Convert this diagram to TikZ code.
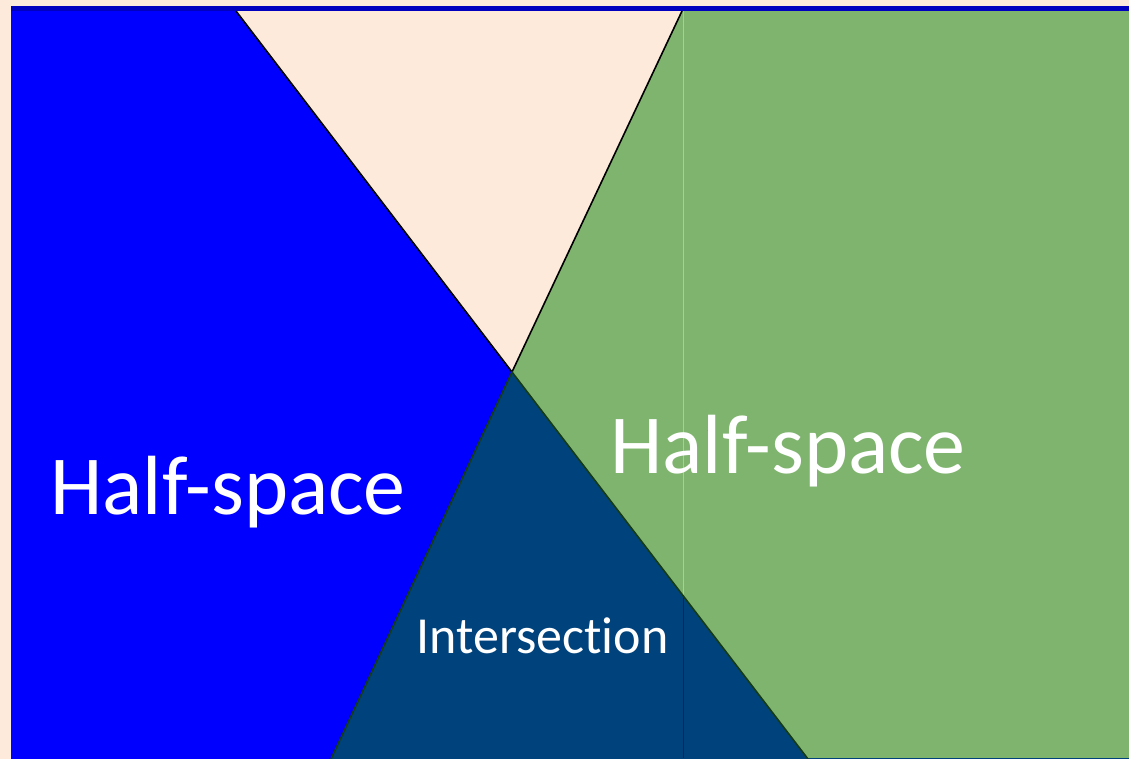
\documentclass[tikz,border=0pt]{standalone}
\usepackage{fontspec}
\setmainfont[Ligatures=NoCommon]{Carlito}
\definecolor{peach}{RGB}{253,234,219}
\definecolor{hsblue}{RGB}{0,0,255}
\definecolor{hsgreen}{RGB}{127,180,110}
\definecolor{isblue}{RGB}{0,66,124}
\definecolor{topline}{RGB}{0,0,190}
\definecolor{edgegreen}{RGB}{20,60,20}
\definecolor{faint}{RGB}{170,205,158}
\tikzset{
  label/.style={text=white, inner sep=0pt, anchor=base},
  edge/.style={line width=1.6pt, line cap=round}
}
\begin{document}
\begin{tikzpicture}[x=1pt,y=-1pt]
  \useasboundingbox (0,0) rectangle (1129,759);
  \fill[peach] (0,0) rectangle (1129,759);
  % corner coordinates
  \coordinate (lt) at (11,11);
  \coordinate (lb) at (11,759);
  \coordinate (a) at (236,11);
  \coordinate (b) at (682,11);
  \coordinate (apex) at (512,372);
  \coordinate (bl) at (331,759);
  \coordinate (br) at (808,759);
  \coordinate (rt) at (1129,11);
  \coordinate (rb) at (1129,759);
  % half-spaces
  \fill[hsblue] (lt) -- (a) -- (br) -- (lb) -- cycle;
  \fill[hsgreen] (b) -- (rt) -- (rb) -- (bl) -- cycle;
  \fill[isblue] (apex) -- (bl) -- (br) -- cycle;
  % faint vertical guide
  \draw[faint, line width=0.8pt] (683,11) -- (683,595);
  \draw[hsblue!80!isblue, line width=0.8pt] (683,597) -- (683,759);
  % bottom edge
  \draw[isblue, line width=1.2pt] (bl) -- (rb);
  % boundaries
  \draw[edge, black] (a) -- (apex);
  \draw[edge, black] (b) -- (apex);
  \draw[edge, edgegreen] (apex) -- (br);
  \draw[edge, edgegreen] (apex) -- (bl);
  % top rule
  \draw[topline, line width=4.5pt] (11,8.5) -- (1129,8.5);
  % tiny red mark
  \draw[red, line width=1pt] (708,431) -- (713,430);
  % labels
  \node[label, font=\fontsize{84}{90}\selectfont] (hl) at (228,514) {Half-space};
  \node[label, font=\fontsize{84}{90}\selectfont] (hr) at (788,473) {Half-space};
  \node[label, font=\fontsize{52}{60}\selectfont] (is) at (542.5,653) {Intersection};
\end{tikzpicture}
\end{document}
